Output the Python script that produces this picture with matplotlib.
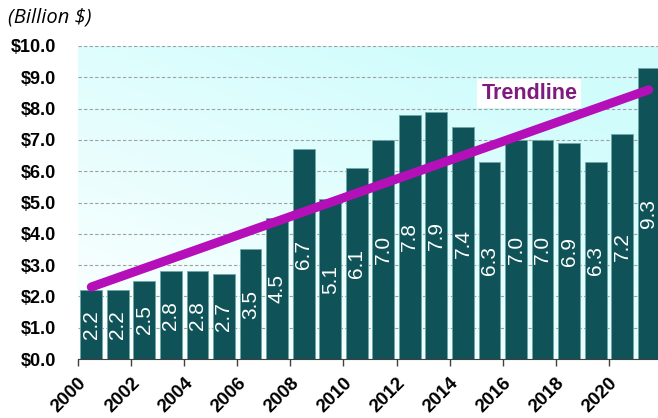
import matplotlib.pyplot as plt
import numpy as np

years = list(range(2000, 2022))
values = [2.2, 2.2, 2.5, 2.8, 2.8, 2.7, 3.5, 4.5, 6.7, 5.1, 6.1, 7.0,
          7.8, 7.9, 7.4, 6.3, 7.0, 7.0, 6.9, 6.3, 7.2, 9.3]
labels = ['2.2', '2.2', '2.5', '2.8', '2.8', '2.7', '3.5', '4.5', '6.7', '5.1', '6.1', '7.0',
          '7.8', '7.9', '7.4', '6.3', '7.0', '7.0', '6.9', '6.3', '7.2', '9.3']
trend_x = [0, 21]
trend_y = [2.3, 8.6]

plt.rcParams['font.family'] = ['Liberation Sans', 'DejaVu Sans']

fig = plt.figure(figsize=(6.58, 4.18), dpi=100)
ax = fig.add_axes([78/658, 59/418, 580/658, 313/418])

x = np.arange(len(years))
ax.set_xlim(-0.5, 21.35)
ax.set_ylim(0, 10)

# Background gradient, white top-left to light cyan bottom-right.
gx, gy = np.meshgrid(np.linspace(0, 1, 200), np.linspace(0, 1, 200))
g = np.clip(0.5 * gx + 0.7 * gy, 0, 1)
white = np.array([1.0, 1.0, 1.0])
cyan = np.array([0.82, 0.99, 0.99])
img = white * (1 - g[..., None]) + cyan * g[..., None]
ax.imshow(img, extent=[-0.5, 21.35, 10, 0], aspect='auto', zorder=0)

ax.set_yticks(np.arange(0, 11, 1))
ax.yaxis.grid(True, linestyle=(0, (3, 2)), color='#a0a0a0', linewidth=0.8, zorder=1)
ax.set_axisbelow(True)

ax.bar(x, values, width=0.82, color='#0f5257', edgecolor='#6fa8a8', linewidth=0.6, zorder=2)

for xi, v, lab in zip(x, values, labels):
    ax.text(xi, v / 2, lab, rotation=90, ha='center', va='center',
            color='white', fontsize=15, zorder=3)

ax.plot(trend_x, trend_y, color='#b40fb8', linewidth=6.5, solid_capstyle='round', zorder=4)
ax.text(16.5, 8.47, 'Trendline', color='#7f1a7f', fontsize=15.5, fontweight='bold',
        ha='center', va='center', zorder=5,
        bbox=dict(facecolor='white', edgecolor='none', pad=3))

ax.set_yticklabels(['$%.1f' % t for t in np.arange(0, 11, 1)], fontsize=13, fontweight='bold')
ax.tick_params(axis='y', length=0, pad=16)

ax.set_xticks(np.arange(-0.5, 21, 2))
ax.set_xticklabels([str(y) for y in years[::2]], rotation=45, ha='right',
                   rotation_mode='anchor', fontsize=13.5, fontweight='bold')
ax.tick_params(axis='x', length=5, width=1, color='#404040', pad=6)

for s in ['top', 'right', 'left']:
    ax.spines[s].set_visible(False)
ax.spines['bottom'].set_color('#404040')

fig.text(8/658, 1 - 18/418, '(Billion $)', fontsize=14.5, fontstyle='italic',
         family='Open Sans', va='center', ha='left')

plt.savefig('out.png', dpi=100)
